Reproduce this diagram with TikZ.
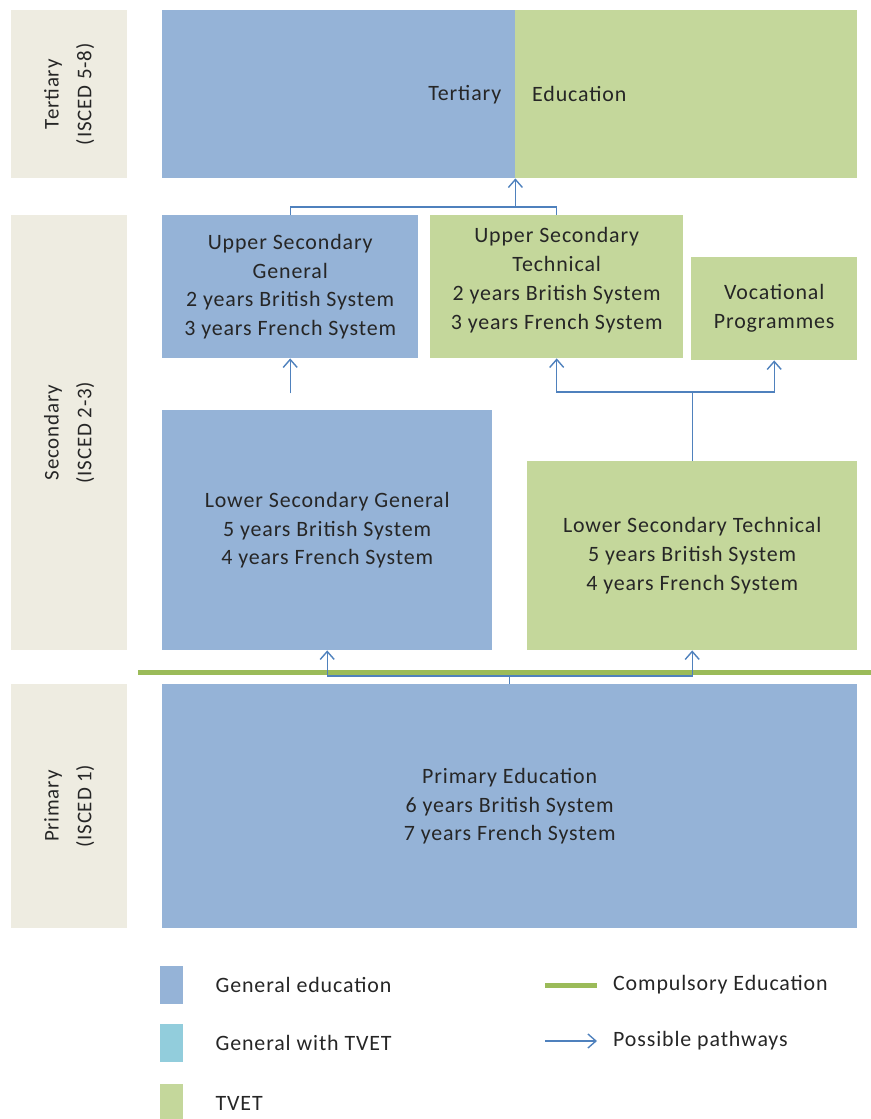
\documentclass[tikz,border=0pt]{standalone}
\usepackage{fontspec}
\setmainfont{Carlito}[LetterSpace=4]
\usetikzlibrary{positioning,arrows.meta}
\definecolor{genblue}{HTML}{95B3D7}
\definecolor{tvetgreen}{HTML}{C4D79B}
\definecolor{mixcyan}{HTML}{92CDDC}
\definecolor{levelbeige}{HTML}{EEECE1}
\definecolor{compgreen}{HTML}{9BBB59}
\definecolor{pathblue}{HTML}{4F81BD}
\definecolor{inkgray}{HTML}{262626}
\tikzset{
  every node/.style={font=\fontsize{22}{29}\selectfont, text=inkgray},
  blk/.style={anchor=north west, inner sep=0pt, align=center},
  gen/.style={blk, fill=genblue},
  tvet/.style={blk, fill=tvetgreen},
  level/.style={blk, fill=levelbeige, minimum width=116bp},
  levtext/.style={rotate=90, align=center, font=\fontsize{21}{33}\selectfont},
  swatch/.style={anchor=north west, inner sep=0pt, minimum width=23bp, minimum height=38bp},
  pathway/.style={-{Straight Barb[length=8bp,width=14bp]}, draw=pathblue, line width=1.4bp},
  compulsory/.style={draw=compgreen, line width=5bp}
}
\begin{document}
\begin{tikzpicture}[x=1bp,y=-1bp]
    \useasboundingbox (0,0) rectangle (871,1119);
    % Levels
    \node[level, minimum height=168bp] (ltert) at (11,10) {};
    \node[levtext] at (ltert.center) {Tertiary\\(ISCED 5-8)};
    \node[level, minimum height=435bp] (lsec) at (11,215) {};
    \node[levtext] at (lsec.center) {Secondary\\(ISCED 2-3)};
    \node[level, minimum height=244bp] (lprim) at (11,684) {};
    \node[levtext] at (lprim.center) {Primary\\(ISCED 1)};

    % Tertiary
    \node[gen, minimum width=353bp, minimum height=168bp] (tertgen) at (162,10) {};
    \node[tvet, minimum width=342bp, minimum height=168bp] (terttvet) at (515,10) {};
    \node[left=14bp of tertgen.east, inner sep=0pt] {Tertiary};
    \node[right=17bp of terttvet.west, inner sep=0pt] {Education};

    % Secondary
    \node[gen, minimum width=256bp, minimum height=143bp] (usgen) at (162,215)
        {Upper Secondary\\General\\2 years British System\\3 years French System};
    \node[tvet, minimum width=253bp, minimum height=143bp, text depth=17bp] (ustech) at (430,215)
        {Upper Secondary\\Technical\\2 years British System\\3 years French System};
    \node[tvet, minimum width=166bp, minimum height=103bp] (voc) at (691,257)
        {Vocational\\Programmes};
    \node[gen, minimum width=330bp, minimum height=240bp] (lsgen) at (162,410)
        {Lower Secondary General\\5 years British System\\4 years French System};
    \node[tvet, minimum width=330bp, minimum height=189bp] (lstech) at (527,461)
        {Lower Secondary Technical\\5 years British System\\4 years French System};

    % Primary
    \node[gen, minimum width=695bp, minimum height=244bp] (prim) at (162,684)
        {Primary Education\\6 years British System\\7 years French System};

    % Compulsory education line
    \coordinate (cl) at (138,672);
    \coordinate (cr) at (871,672);
    \draw[compulsory] (cl) -- (cr);

    % Pathways
    \draw[pathway] (prim.north) -- ++(0,-8) -| (lsgen.south);
    \draw[pathway] (prim.north) -- ++(0,-8) -| (lstech.south);
    \draw[pathway] (lstech.north) -- ++(0,-69) -| (ustech.south);
    \draw[pathway] (lstech.north) -- ++(0,-69) -| (voc.south);
    \draw[pathway] ([yshift=-35bp]usgen.south) -- (usgen.south);
    \draw[pathway,-] (usgen.north) -- ++(0,-8) -| (ustech.north);
    \draw[pathway] (tertgen.south east |- usgen.north) ++(0,-8) -- (tertgen.south east);

    % Legend
    \node[swatch, fill=genblue] (sgen) at (160,966) {};
    \node[right=32bp of sgen.east, inner sep=0pt] {General education};
    \node[swatch, fill=mixcyan] (smix) at (160,1024) {};
    \node[right=32bp of smix.east, inner sep=0pt] {General with TVET};
    \node[swatch, fill=tvetgreen] (stvet) at (160,1084) {};
    \node[right=32bp of stvet.east, inner sep=0pt] {TVET};
    \coordinate (kcl) at (545,985);
    \coordinate (kcr) at (597,985);
    \draw[compulsory] (kcl) -- (kcr);
    \node[right=16bp of kcr, inner sep=0pt] {Compulsory Education};
    \coordinate (kpl) at (545,1041);
    \coordinate (kpr) at (597,1041);
    \draw[pathway] (kpl) -- (kpr);
    \node[right=16bp of kpr, inner sep=0pt] {Possible pathways};
\end{tikzpicture}
\end{document}
